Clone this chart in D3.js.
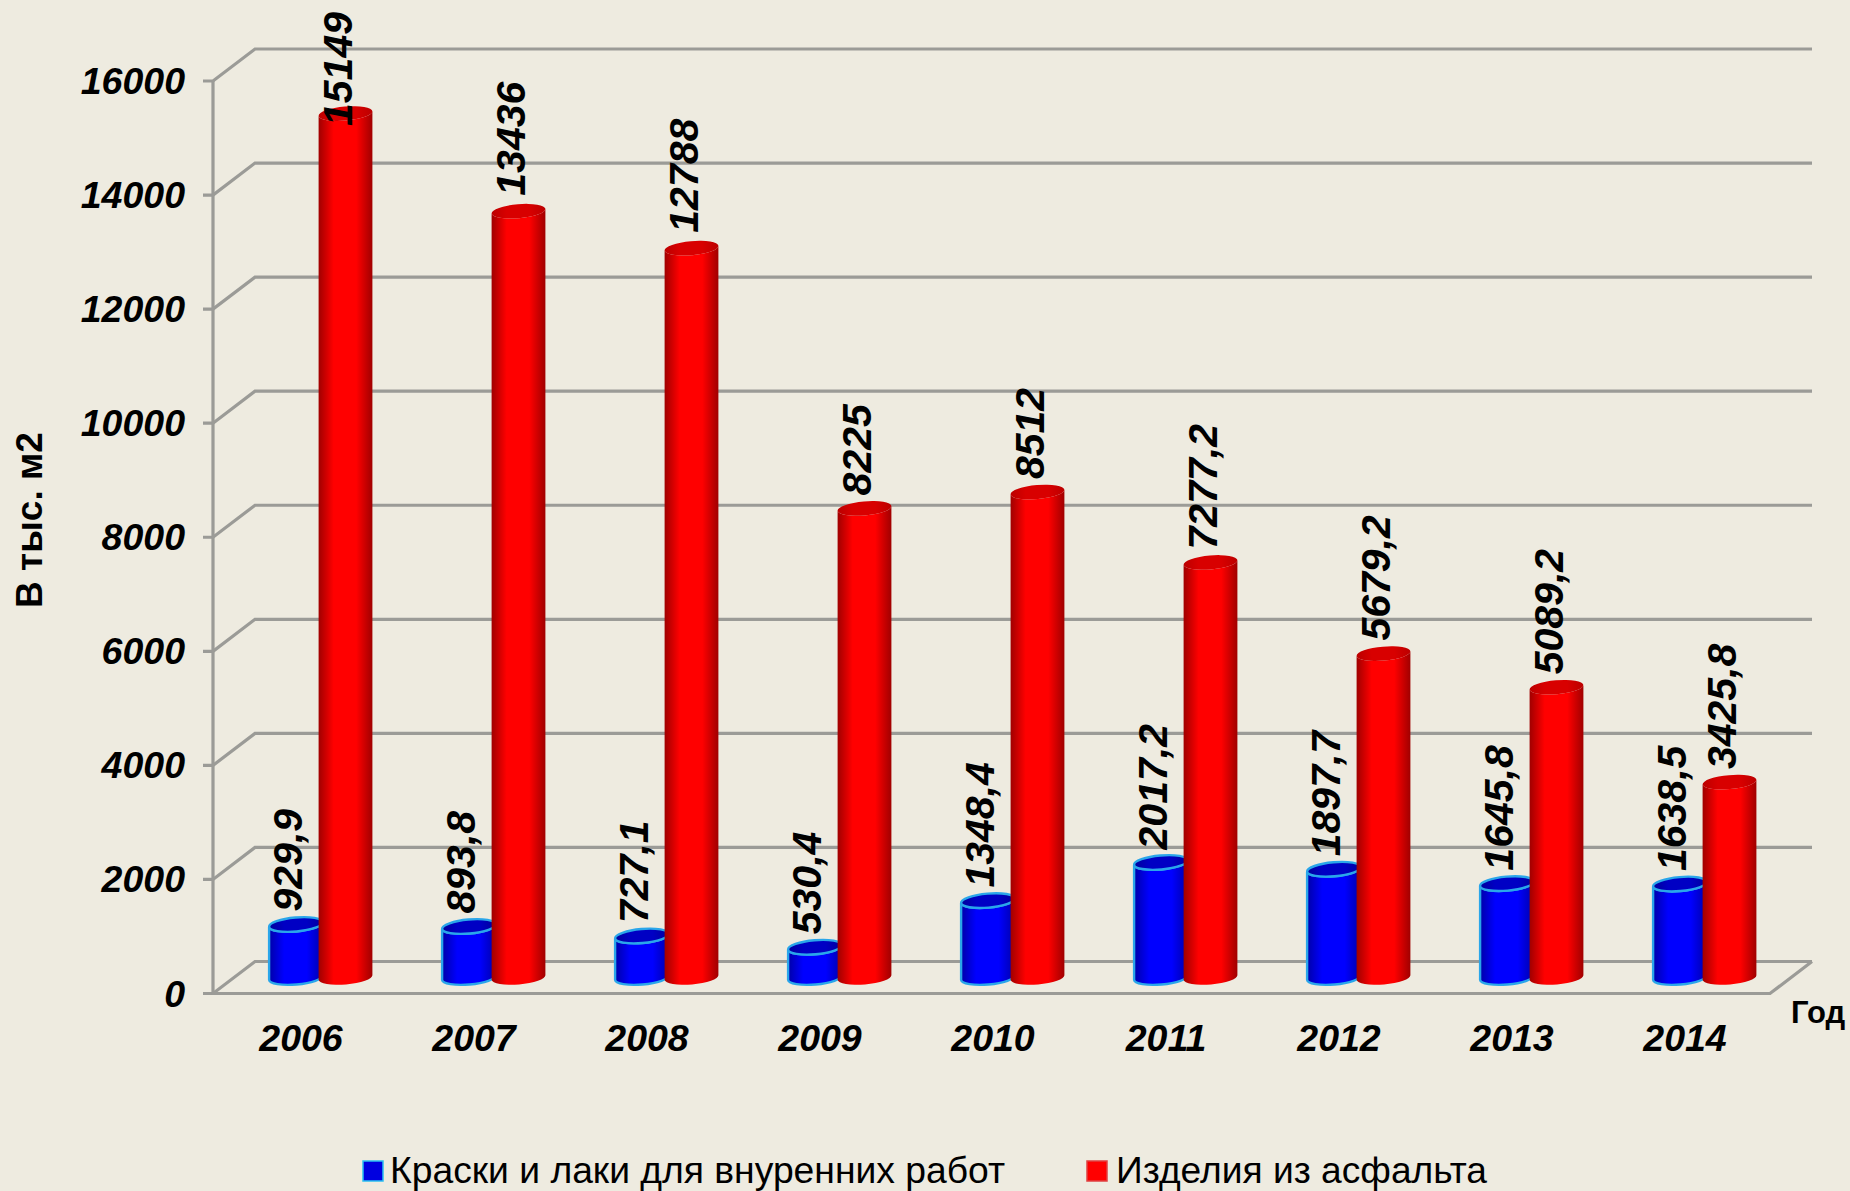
<!DOCTYPE html>
<html>
<head>
<meta charset="utf-8">
<script src="https://cdn.jsdelivr.net/npm/d3@7"></script>
<style>
  html, body { margin: 0; padding: 0; background: #eeebe0; }
  svg { display: block; font-family: "Liberation Sans", Arial, sans-serif; }
</style>
</head>
<body>
<svg></svg>
<script>
const years = [2006, 2007, 2008, 2009, 2010, 2011, 2012, 2013, 2014];
const paints = [929.9, 893.8, 727.1, 530.4, 1348.4, 2017.2, 1897.7, 1645.8, 1638.5];
const asphalt = [15149, 13436, 12788, 8225, 8512, 7277.2, 5679.2, 5089.2, 3425.8];
const yTicks = [0, 2000, 4000, 6000, 8000, 10000, 12000, 14000, 16000];
const seriesNames = ["Краски и лаки для внуренних работ", "Изделия из асфальта"];

const width = 1850;
const height = 1191;

// front plane of the fake 3d box, the back wall is shifted by depth
const x0 = 213, x1 = 1770, yBottom = 993.5, yTop = 81;
const depthX = 42, depthY = 32;
const grey = "#9b9b97";

const svg = d3.select("svg").attr("width", width).attr("height", height);

const defs = svg.append("defs");
function cylGradient(id, edge, mid) {
  const g = defs.append("linearGradient").attr("id", id);
  [[0, edge], [0.28, mid], [0.7, mid], [1, edge]].forEach(s => {
    g.append("stop").attr("offset", s[0]).attr("stop-color", s[1]);
  });
}
cylGradient("redBody", "#a00000", "#ff0000");
cylGradient("blueBody", "#0000a8", "#0000ff");
cylGradient("redTop", "#bb0000", "#d80000");
cylGradient("blueTop", "#00009c", "#0000c4");

const xBand = d3.scaleBand().domain(years).range([x0, x1]);
const yFront = d3.scaleLinear().domain([0, 16000]).range([yBottom, yTop]);
// the bars stand halfway into the box
const yBar = d3.scaleLinear().domain([0, 16000]).range([yBottom - depthY / 2, yTop - depthY / 2]);

// walls
const grid = svg.append("g").attr("fill", "none").attr("stroke", grey).attr("stroke-width", 3.2);
grid.selectAll("path.wall")
  .data(yTicks)
  .join("path")
  .attr("class", "wall")
  .attr("d", d => {
    const y = yFront(d);
    return `M${x0 - 10},${y}H${x0}L${x0 + depthX},${y - depthY}H${x1 + depthX}`;
  });
grid.append("path").attr("d", `M${x0},${yTop}V${yBottom}H${x1}L${x1 + depthX},${yBottom - depthY}`);

// cylinders
const barW = 54, rx = barW / 2, ry = 7, tilt = -5;
const dx = rx * Math.cos(tilt * Math.PI / 180);
const dy = rx * Math.sin(tilt * Math.PI / 180);

function drawBars(values, offset, bodyId, topId, stroke) {
  const g = svg.append("g");
  const bars = g.selectAll("g")
    .data(values.map((v, i) => ({ year: years[i], v })))
    .join("g")
    .attr("transform", d => `translate(${xBand(d.year) + offset},0)`);

  bars.append("path")
    .attr("d", d => {
      const t = yBar(d.v), b = yBar(0);
      return `M${-dx},${t - dy}L${-dx},${b - dy}A${rx},${ry} ${tilt} 0 0 ${dx},${b + dy}L${dx},${t + dy}A${rx},${ry} ${tilt} 0 1 ${-dx},${t - dy}Z`;
    })
    .attr("fill", `url(#${bodyId})`)
    .attr("stroke", stroke)
    .attr("stroke-width", stroke === "none" ? 0 : 2.4);

  bars.append("ellipse")
    .attr("rx", rx).attr("ry", ry)
    .attr("transform", d => `translate(0,${yBar(d.v)}) rotate(${tilt})`)
    .attr("fill", `url(#${topId})`)
    .attr("stroke", stroke)
    .attr("stroke-width", stroke === "none" ? 0 : 2.4);
}
drawBars(paints, 83, "blueBody", "blueTop", "#2aa6ea");
drawBars(asphalt, 132.5, "redBody", "redTop", "none");

// value labels
function drawValues(values, offset) {
  svg.append("g").selectAll("text")
    .data(values.map((v, i) => ({ year: years[i], v })))
    .join("text")
    .text(d => String(d.v).replace(".", ","))
    .attr("font-size", 41)
    .attr("font-weight", "bold")
    .attr("font-style", "italic")
    .attr("fill", "#000")
    .attr("transform", function(d) {
      const len = this.getComputedTextLength();
      const gap = d.v > 12000 ? 15.5 : 13;
      const bottom = Math.max(yBar(d.v) - gap, 12 + len);
      return `translate(${xBand(d.year) + offset + 6},${bottom}) rotate(-90)`;
    });
}
drawValues(paints, 83);
drawValues(asphalt, 132.5);

// axis labels
svg.append("g").selectAll("text")
  .data(yTicks)
  .join("text")
  .text(d => d)
  .attr("x", 185)
  .attr("y", d => yFront(d) + 13)
  .attr("text-anchor", "end")
  .attr("font-size", 37.5)
  .attr("font-weight", "bold")
  .attr("font-style", "italic");

svg.append("g").selectAll("text")
  .data(years)
  .join("text")
  .text(d => d)
  .attr("x", d => xBand(d) + xBand.bandwidth() / 2 + 1.5)
  .attr("y", 1051)
  .attr("text-anchor", "middle")
  .attr("font-size", 37.5)
  .attr("font-weight", "bold")
  .attr("font-style", "italic");

svg.append("text")
  .text("В тыс. м2")
  .attr("transform", "translate(42,520) rotate(-90)")
  .attr("text-anchor", "middle")
  .attr("font-size", 37)
  .attr("font-weight", "bold");

svg.append("text")
  .text("Год")
  .attr("x", 1791)
  .attr("y", 1023)
  .attr("font-size", 31)
  .attr("font-weight", "bold");

// legend
const legendX = [363, 1087];
const legendTextX = [390, 1116];
const legendLen = [615, 371];
const legendColors = [["#0000e0", "#2ac0f0"], ["#ff0000", "#e04040"]];
const legend = svg.append("g").selectAll("g")
  .data(seriesNames)
  .join("g");
legend.append("rect")
  .attr("x", (d, i) => legendX[i])
  .attr("y", 1161)
  .attr("width", 20)
  .attr("height", 20)
  .attr("fill", (d, i) => legendColors[i][0])
  .attr("stroke", (d, i) => legendColors[i][1])
  .attr("stroke-width", 1.5);
legend.append("text")
  .text(d => d)
  .attr("x", (d, i) => legendTextX[i])
  .attr("y", 1183)
  .attr("font-size", 36)
  .attr("textLength", (d, i) => legendLen[i])
  .attr("lengthAdjust", "spacingAndGlyphs");
</script>
</body>
</html>
